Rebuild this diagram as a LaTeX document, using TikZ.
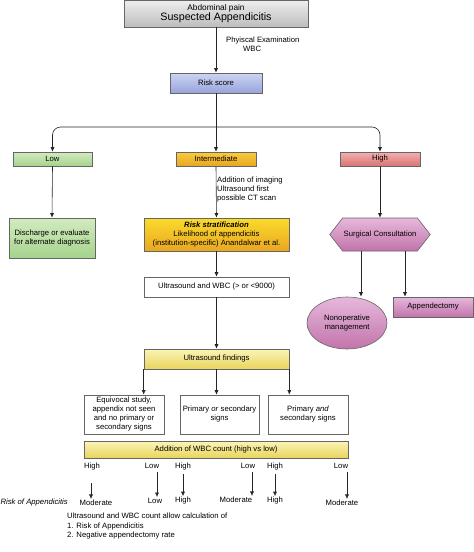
\documentclass[tikz,border=0pt]{standalone}
\usepackage{fontspec}
\setmainfont{Liberation Sans}
\usetikzlibrary{arrows.meta,shapes.geometric,shapes.symbols}

\newcommand\figfont{\fontsize{7.7}{9}\selectfont}

\definecolor{grayA}{HTML}{EEEEEE}
\definecolor{grayB}{HTML}{BDBDBD}
\definecolor{blueA}{HTML}{CDD4F2}
\definecolor{blueB}{HTML}{98A4DC}
\definecolor{greenA}{HTML}{D2EBC0}
\definecolor{greenB}{HTML}{A6D38C}
\definecolor{orangeA}{HTML}{F9CC3E}
\definecolor{orangeB}{HTML}{E9A622}
\definecolor{redA}{HTML}{F2B0B0}
\definecolor{redB}{HTML}{D97474}
\definecolor{purpleA}{HTML}{E6B8DC}
\definecolor{purpleB}{HTML}{C274AA}
\definecolor{yellowA}{HTML}{FBF5B8}
\definecolor{yellowB}{HTML}{E9D45C}

\begin{document}
\begin{tikzpicture}[x=1pt, y=-1pt,
  box/.style={draw=black!60, line width=0.6pt, inner sep=1pt, align=center, font=\figfont},
  arr/.style={draw=black!85, line width=0.6pt, -{Latex[length=4.5pt,width=4pt]}},
  lbl/.style={inner sep=1pt, font=\figfont}]

  % Fix the page to the size of the reference
  \useasboundingbox (0,0) rectangle (474,552);

  % Start of the pathway
  \node[box, minimum width=184, minimum height=27, top color=grayA, bottom color=grayB]
    (start) at (216,13.5) {{\fontsize{8.3}{9}\selectfont Abdominal pain}\\[-1pt]
    {\fontsize{10.7}{11}\selectfont Suspected Appendicitis}};
  \node[box, minimum width=92, minimum height=20, top color=blueA, bottom color=blueB]
    (risk) at (216,83) {Risk score};
  \draw[arr] (start.south) -- (risk.north);
  \node[lbl, anchor=north west, align=left] (exam) at (225,36)
    {Phyiscal Examination\\\hspace*{17pt}WBC};

  % The three risk groups
  \node[box, minimum width=79, minimum height=14, top color=greenA, bottom color=greenB]
    (low) at (52.5,159) {Low};
  \node[box, minimum width=80, minimum height=14, top color=orangeA, bottom color=orangeB]
    (inter) at (216,159) {Intermediate};
  \node[box, minimum width=80, minimum height=14, top color=redA, bottom color=redB]
    (high) at (380,159) {High};

  % Split the risk score into the groups
  \coordinate (fork) at (216,127);
  \draw[arr] (risk.south) -- (inter.north);
  \draw[arr, rounded corners=8] (fork) -| (low.north);
  \draw[arr, rounded corners=8] (fork) -| (high.north);

  % Low risk
  \node[box, minimum width=86, minimum height=40, top color=greenA, bottom color=greenB]
    (discharge) at (52,238) {Discharge or evaluate\\for alternate diagnosis};
  \draw[arr] (low.south) -- (discharge.north);

  % Intermediate risk
  \node[box, minimum width=145, minimum height=33, top color=orangeA!70!yellow, bottom color=orangeB]
    (strat) at (216.5,234.5) {\textbf{\textit{Risk stratification}}\\
    Likelihood of appendicitis\\(institution-specific) Anandalwar et al.};
  \draw[arr] (inter.south) -- (strat.north);
  \node[lbl, anchor=north west, align=left] (imaging) at (216,176)
    {Addition of imaging\\Ultrasound first\\possible CT scan};

  % High risk
  \node[box, signal, signal to=east and west, signal pointer angle=104,
    minimum width=92, minimum height=33, top color=purpleA, bottom color=purpleB]
    (surg) at (380,234.5) {Surgical Consultation};
  \draw[arr] (high.south) -- (surg.north);
  \node[box, ellipse, minimum width=80, minimum height=52, top color=purpleA, bottom color=purpleB]
    (nonop) at (347,323) {Nonoperative\\management};
  \node[box, minimum width=80, minimum height=20, top color=purpleA, bottom color=purpleB]
    (appx) at (433,307) {Appendectomy};
  \draw[arr] ([xshift=-19pt]surg.south) -- ([xshift=-19pt]surg.south |- nonop.north);
  \draw[arr] ([xshift=25pt]surg.south) -- ([xshift=25pt]surg.south |- appx.north);

  % Imaging
  \node[box, minimum width=145, minimum height=20] (uswbc) at (216.5,287)
    {Ultrasound and WBC (> or <9000)};
  \draw[arr] (strat.south) -- (uswbc.north);
  \node[box, minimum width=145, minimum height=20, top color=yellowA, bottom color=yellowB]
    (findings) at (216.5,359) {Ultrasound findings};
  \draw[arr] (uswbc.south) -- (findings.north);

  % Ultrasound findings
  \node[box, minimum width=80, minimum height=39] (equiv) at (124,414.5)
    {Equivocal study,\\appendix not seen\\and no primary or\\secondary signs};
  \node[box, minimum width=79, minimum height=39] (prim) at (219.5,414.5)
    {Primary \textit{or} secondary\\signs};
  \node[box, minimum width=80, minimum height=39] (both) at (308,414.5)
    {Primary \textit{and}\\secondary signs};
  \draw[arr] (findings.south west) -- (findings.south west |- equiv.north);
  \draw[arr] (findings.south) -- (findings.south |- prim.north);
  \draw[arr] (findings.south east) -- (findings.south east |- both.north);

  % WBC count
  \node[box, minimum width=264, minimum height=17, top color=yellowA, bottom color=yellowB]
    (wbc) at (216,449.5) {Addition of WBC count (high vs low)};

  % WBC levels
  \node[lbl] (h1) at (92,467) {High};
  \node[lbl] (l1) at (152,466) {Low};
  \node[lbl] (h2) at (183,467) {High};
  \node[lbl] (l2) at (248,466) {Low};
  \node[lbl] (h3) at (275,467) {High};
  \node[lbl] (l3) at (341,466) {Low};

  % Risk of appendicitis
  \node[lbl, anchor=east, font=\figfont\itshape] (riskapp) at (69,503) {Risk of Appendicitis};
  \node[lbl] (r1) at (96,503) {Moderate};
  \node[lbl] (r2) at (155,501) {Low};
  \node[lbl] (r3) at (183,501) {High};
  \node[lbl] (r4) at (236,500) {Moderate};
  \node[lbl] (r5) at (275,501) {High};
  \node[lbl] (r6) at (342,503) {Moderate};

  % Arrows from WBC level to risk
  \coordinate (a1) at (91,483);
  \coordinate (a2) at (157,472);
  \coordinate (a3) at (183,474);
  \coordinate (a4) at (252,472);
  \coordinate (a5) at (275,474);
  \coordinate (a6) at (347,472);
  \draw[arr] (a1) -- (a1 |- r1.north);
  \draw[arr] (a2) -- (a2 |- r2.north);
  \draw[arr] (a3) -- (a3 |- r3.north);
  \draw[arr] (a4) -- (a4 |- r4.north);
  \draw[arr] (a5) -- (a5 |- r5.north);
  \draw[arr] (a6) -- (a6 |- r6.north);

  % Note at the bottom
  \node[lbl, anchor=north west, align=left, font=\fontsize{7.7}{9.5}\selectfont] (note) at (66,512)
    {Ultrasound and WBC count allow calculation of\\1. Risk of Appendicitis\\2. Negative appendectomy rate};

\end{tikzpicture}
\end{document}
